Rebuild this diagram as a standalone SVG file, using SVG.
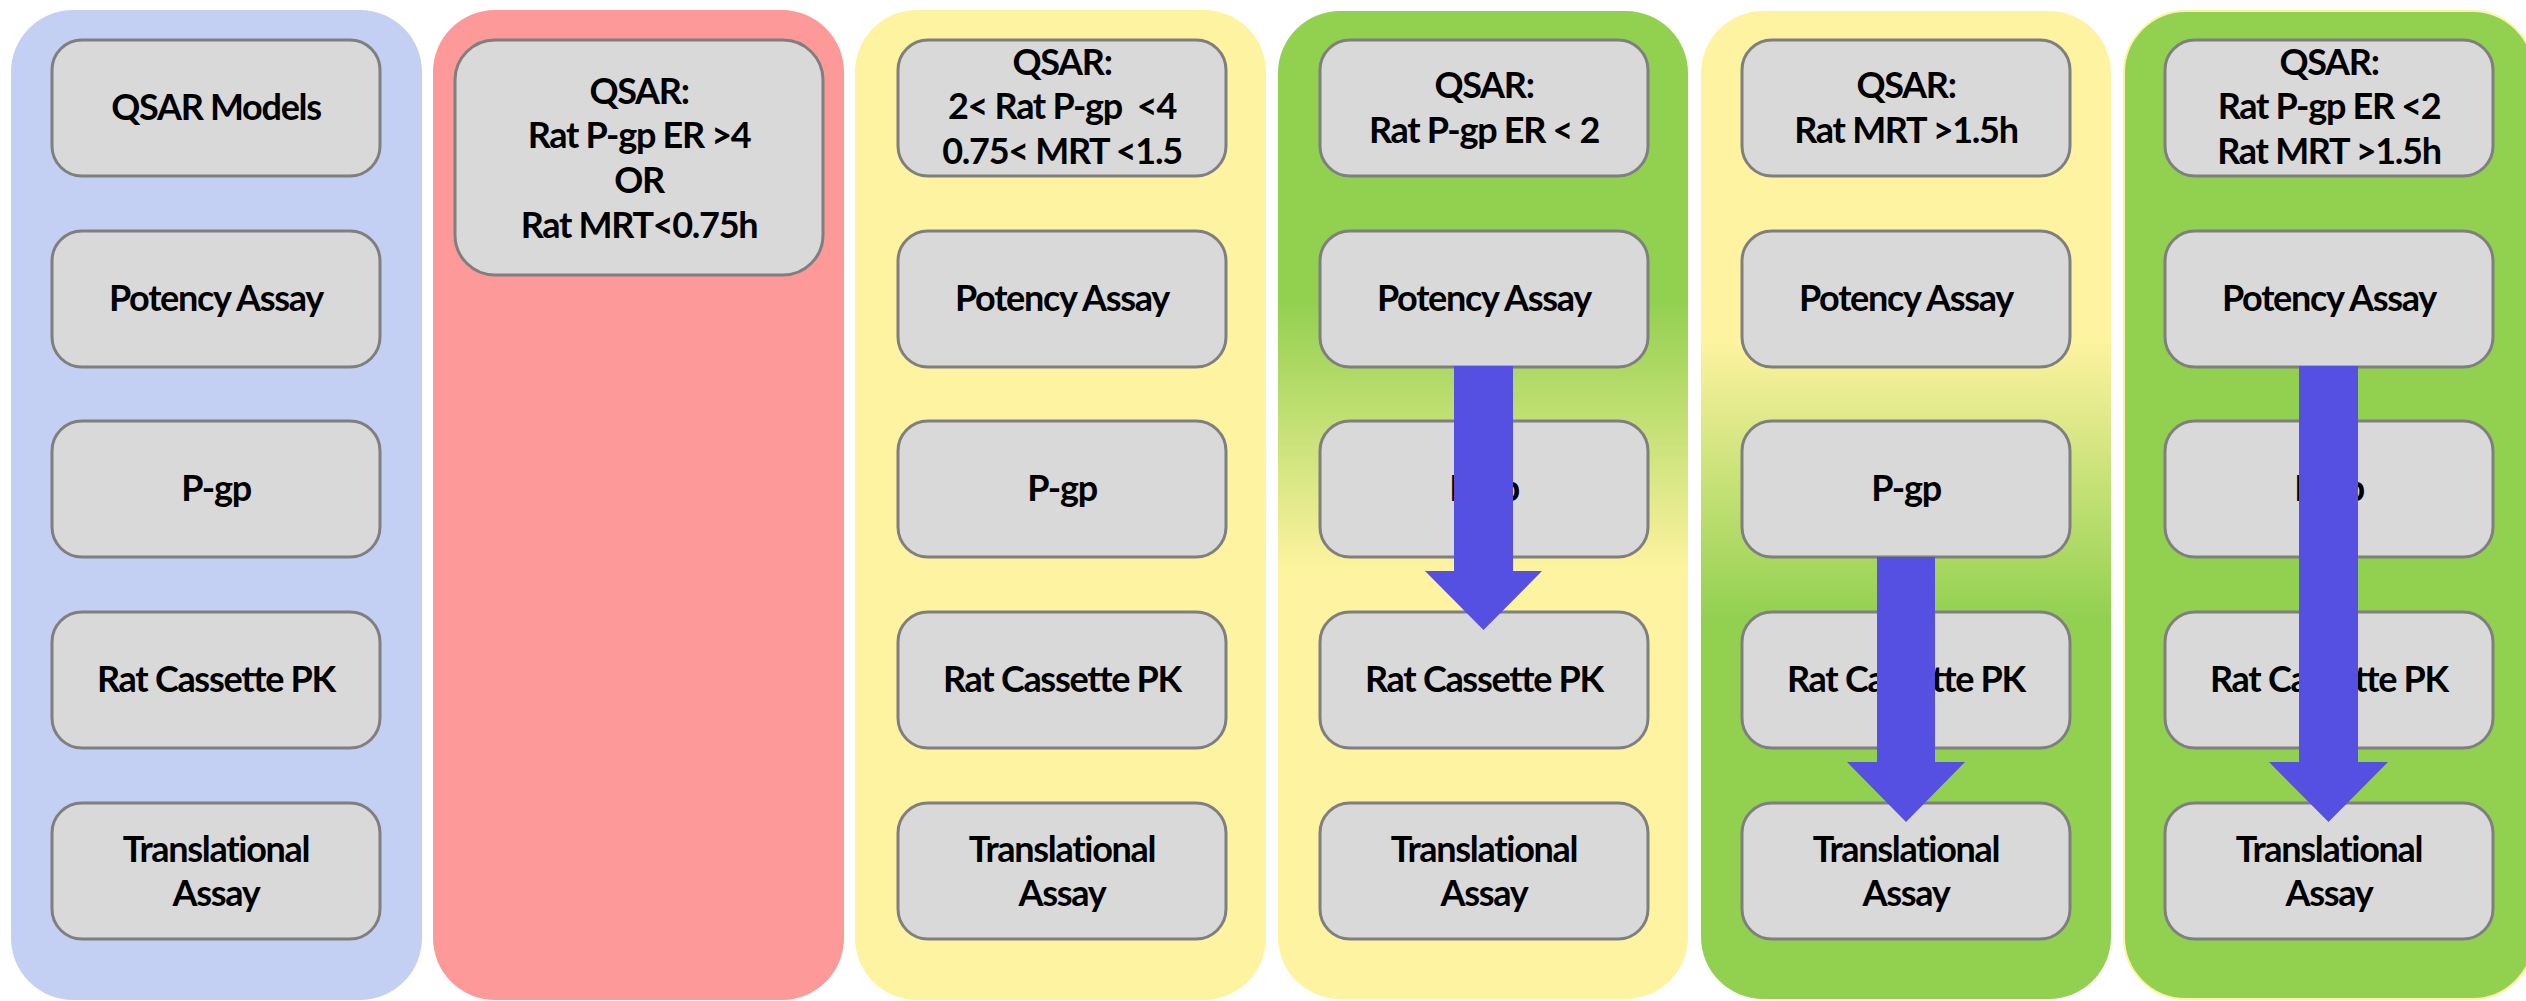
<svg xmlns="http://www.w3.org/2000/svg" width="2526" height="1001" viewBox="0 0 2526 1001">
<defs>
<linearGradient id="gy" x1="0" y1="300" x2="0" y2="570" gradientUnits="userSpaceOnUse">
<stop offset="0" stop-color="#92D050"/><stop offset="1" stop-color="#FEF3A0"/>
</linearGradient>
<linearGradient id="yg" x1="0" y1="340" x2="0" y2="620" gradientUnits="userSpaceOnUse">
<stop offset="0" stop-color="#FEF3A0"/><stop offset="1" stop-color="#92D050"/>
</linearGradient>
</defs>
<style>
.col{stroke:none}
.blue{fill:#C3D0F4}
.red{fill:#FE9999}
.yel{fill:#FEF3A0}
.grn{fill:#92D050;stroke:#FEF3A0;stroke-width:2}
.box{fill:#D9D9D9;stroke:#7F7F7F;stroke-width:3}
text{font-family:Lato,"Liberation Sans",sans-serif;font-weight:bold;font-size:36px;letter-spacing:-1.3px;fill:#000;text-anchor:middle}
.arrow{fill:#5550E1}
</style>
<rect width="2526" height="1001" fill="#fff"/>
<g id="col1">
<rect class="col blue" x="11" y="10" width="411" height="990" rx="62"/>
<g id="c1-qsar"><rect class="box" x="52" y="40" width="328" height="136" rx="30"/><text x="216" y="120">QSAR Models</text></g>
<g id="c1-potency"><rect class="box" x="52" y="231" width="328" height="136" rx="30"/><text x="216" y="311">Potency Assay</text></g>
<g id="c1-pgp"><rect class="box" x="52" y="421" width="328" height="136" rx="30"/><text x="216" y="501">P-gp</text></g>
<g id="c1-pk"><rect class="box" x="52" y="612" width="328" height="136" rx="30"/><text x="216" y="692">Rat Cassette PK</text></g>
<g id="c1-trans"><rect class="box" x="52" y="803" width="328" height="136" rx="30"/><text x="216" y="862">Translational</text><text x="216" y="906">Assay</text></g>
</g>
<g id="col2">
<rect class="col red" x="433" y="10" width="411" height="990" rx="62"/>
<g id="c2-qsar"><rect class="box" x="455" y="40" width="368" height="235" rx="40"/>
<text x="639" y="104">QSAR:</text><text x="639" y="148">Rat P-gp ER &gt;4</text><text x="639" y="193">OR</text><text x="639" y="238">Rat MRT&lt;0.75h</text></g>
</g>
<g id="col3">
<rect class="col yel" x="855" y="10" width="411" height="990" rx="62"/>
<g id="c3-qsar"><rect class="box" x="898" y="40" width="328" height="136" rx="30"/><text x="1062" y="75">QSAR:</text><text x="1062" y="119" xml:space="preserve">2&lt; Rat P-gp  &lt;4</text><text x="1062" y="164">0.75&lt; MRT &lt;1.5</text></g>
<g id="c3-potency"><rect class="box" x="898" y="231" width="328" height="136" rx="30"/><text x="1062" y="311">Potency Assay</text></g>
<g id="c3-pgp"><rect class="box" x="898" y="421" width="328" height="136" rx="30"/><text x="1062" y="501">P-gp</text></g>
<g id="c3-pk"><rect class="box" x="898" y="612" width="328" height="136" rx="30"/><text x="1062" y="692">Rat Cassette PK</text></g>
<g id="c3-trans"><rect class="box" x="898" y="803" width="328" height="136" rx="30"/><text x="1062" y="862">Translational</text><text x="1062" y="906">Assay</text></g>
</g>
<g id="col4">
<rect class="col" x="1278" y="11" width="410" height="988" rx="62" fill="url(#gy)" stroke="#FEF3A0" stroke-width="2"/>
<g id="c4-qsar"><rect class="box" x="1320" y="40" width="328" height="136" rx="30"/><text x="1484" y="98">QSAR:</text><text x="1484" y="143">Rat P-gp ER &lt; 2</text></g>
<g id="c4-potency"><rect class="box" x="1320" y="231" width="328" height="136" rx="30"/><text x="1484" y="311">Potency Assay</text></g>
<g id="c4-pgp"><rect class="box" x="1320" y="421" width="328" height="136" rx="30"/><text x="1484" y="501">P-gp</text></g>
<g id="c4-pk"><rect class="box" x="1320" y="612" width="328" height="136" rx="30"/><text x="1484" y="692">Rat Cassette PK</text></g>
<g id="c4-trans"><rect class="box" x="1320" y="803" width="328" height="136" rx="30"/><text x="1484" y="862">Translational</text><text x="1484" y="906">Assay</text></g>
</g>
<g id="col5">
<rect class="col" x="1701" y="11" width="410" height="988" rx="62" fill="url(#yg)" stroke="#FEF3A0" stroke-width="2"/>
<g id="c5-qsar"><rect class="box" x="1742" y="40" width="328" height="136" rx="30"/><text x="1906" y="98">QSAR:</text><text x="1906" y="143">Rat MRT &gt;1.5h</text></g>
<g id="c5-potency"><rect class="box" x="1742" y="231" width="328" height="136" rx="30"/><text x="1906" y="311">Potency Assay</text></g>
<g id="c5-pgp"><rect class="box" x="1742" y="421" width="328" height="136" rx="30"/><text x="1906" y="501">P-gp</text></g>
<g id="c5-pk"><rect class="box" x="1742" y="612" width="328" height="136" rx="30"/><text x="1906" y="692">Rat Cassette PK</text></g>
<g id="c5-trans"><rect class="box" x="1742" y="803" width="328" height="136" rx="30"/><text x="1906" y="862">Translational</text><text x="1906" y="906">Assay</text></g>
</g>
<g id="col6">
<rect class="col grn" x="2124" y="11" width="410" height="988" rx="62"/>
<g id="c6-qsar"><rect class="box" x="2165" y="40" width="328" height="136" rx="30"/><text x="2329" y="75">QSAR:</text><text x="2329" y="119">Rat P-gp ER &lt;2</text><text x="2329" y="164">Rat MRT &gt;1.5h</text></g>
<g id="c6-potency"><rect class="box" x="2165" y="231" width="328" height="136" rx="30"/><text x="2329" y="311">Potency Assay</text></g>
<g id="c6-pgp"><rect class="box" x="2165" y="421" width="328" height="136" rx="30"/><text x="2329" y="501">P-gp</text></g>
<g id="c6-pk"><rect class="box" x="2165" y="612" width="328" height="136" rx="30"/><text x="2329" y="692">Rat Cassette PK</text></g>
<g id="c6-trans"><rect class="box" x="2165" y="803" width="328" height="136" rx="30"/><text x="2329" y="862">Translational</text><text x="2329" y="906">Assay</text></g>
</g>
<g id="connectors">
<polygon class="arrow" points="1454,366 1513,366 1513,571 1542,571 1483.5,630 1425,571 1454,571"/>
<polygon class="arrow" points="1877,557 1935,557 1935,762 1965,762 1906,822 1847,762 1877,762"/>
<polygon class="arrow" points="2299,366 2358,366 2358,762 2388,762 2328.5,822 2269,762 2299,762"/>
</g>
</svg>
